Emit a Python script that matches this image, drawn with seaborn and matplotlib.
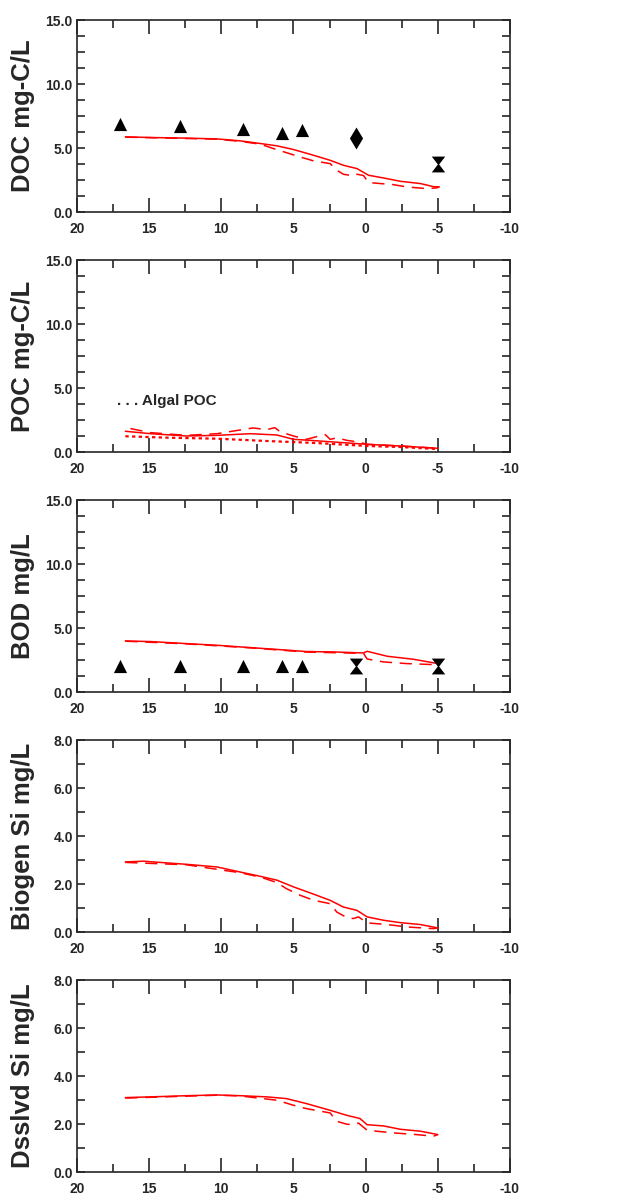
import numpy as np
import pandas as pd
import matplotlib
matplotlib.use("Agg")
import matplotlib.pyplot as plt
from matplotlib.path import Path
from matplotlib.ticker import MultipleLocator, FormatStrFormatter
import seaborn as sns

# ---- observations (field samples) ----
obs_tri_x = [17.0, 12.85, 8.5, 5.8, 4.38]
doc_tri = [6.9, 6.75, 6.45, 6.2, 6.4]
bod_tri = [2.0, 2.0, 2.0, 2.0, 2.0]
doc_dia_x, doc_dia = [0.66], [5.82]
doc_hg_x, doc_hg = [-5.0], [3.78]
bod_hg_x, bod_hg = [0.66, -5.0], [2.0, 2.0]

# ---- model output ----
doc_main_x = [16.65, 14.9, 12.4, 10.3, 8.7, 7.3, 6.15, 5.0, 3.85, 2.46, 1.54, 0.6, -0.2, -1.23, -2.4, -3.8, -4.7, -5.1]
doc_main = [5.87, 5.82, 5.77, 5.71, 5.56, 5.35, 5.17, 4.88, 4.51, 4.04, 3.65, 3.39, 2.87, 2.66, 2.40, 2.22, 1.98, 1.96]
doc_alt_x = [16.65, 10.3, 8.7, 7.3, 6.4, 5.5, 4.54, 3.6, 2.46, 2.0, 1.54, 0.85, 0.6, 0.15, -0.2, -1.9, -2.85, -4.2, -4.9, -5.1]
doc_alt = [5.85, 5.69, 5.52, 5.3, 4.96, 4.64, 4.3, 3.99, 3.78, 3.26, 2.95, 2.82, 2.95, 2.85, 2.30, 2.14, 1.96, 1.83, 1.88, 1.96]

poc_main_x = [16.65, 14.9, 12.4, 10.3, 8.0, 6.15, 5.0, 3.85, 2.2, -0.1, -2.4, -5.0]
poc_main = [1.62, 1.43, 1.25, 1.30, 1.43, 1.33, 0.99, 0.91, 0.78, 0.60, 0.47, 0.29]
poc_alt_x = [16.3, 14.9, 12.4, 10.3, 9.15, 7.8, 6.85, 6.3, 5.9, 5.0, 4.1, 3.5, 2.8, 2.46, 2.0, 1.3, 0.5, -0.1, -2.4, -5.0]
poc_alt = [1.83, 1.51, 1.30, 1.43, 1.64, 1.88, 1.75, 1.90, 1.57, 1.25, 0.99, 1.17, 1.36, 0.99, 1.10, 0.91, 0.78, 0.60, 0.47, 0.29]
poc_alg_x = [16.65, 13.8, 10.3, 6.85, 3.4, -0.1, -2.4, -5.0]
poc_alg = [1.23, 1.12, 1.04, 0.86, 0.70, 0.47, 0.39, 0.23]

bod_main_x = [16.65, 14.9, 12.4, 10.3, 8.0, 5.7, 4.1, 2.2, 0.15, -0.1, -1.5, -3.3, -5.0]
bod_main = [3.99, 3.94, 3.78, 3.65, 3.47, 3.29, 3.16, 3.13, 3.05, 3.18, 2.79, 2.56, 2.22]
bod_alt_x = [16.65, 12.4, 8.0, 4.1, 0.15, -0.1, -1.23, -2.85, -4.7, -5.0]
bod_alt = [3.97, 3.76, 3.45, 3.12, 3.02, 2.58, 2.35, 2.22, 2.14, 2.30]

bsi_main_x = [16.65, 15.4, 13.8, 12.4, 10.3, 8.7, 7.3, 6.15, 5.0, 3.85, 2.46, 1.54, 0.6, -0.1, -1.23, -2.4, -3.8, -5.0]
bsi_main = [2.92, 2.95, 2.88, 2.82, 2.71, 2.50, 2.32, 2.16, 1.88, 1.63, 1.32, 1.04, 0.90, 0.63, 0.49, 0.39, 0.31, 0.17]
bsi_alt_x = [16.65, 12.4, 8.7, 7.3, 6.15, 5.5, 4.54, 3.6, 2.46, 2.0, 1.3, 0.85, 0.5, -0.1, -1.5, -2.85, -4.7, -5.0]
bsi_alt = [2.90, 2.80, 2.47, 2.29, 2.06, 1.81, 1.53, 1.32, 1.18, 0.83, 0.60, 0.56, 0.63, 0.38, 0.31, 0.21, 0.14, 0.17]

dsi_main_x = [16.65, 14.9, 12.4, 10.3, 8.7, 6.85, 5.5, 4.1, 2.46, 1.3, 0.4, -0.1, -1.23, -2.4, -3.8, -5.0]
dsi_main = [3.10, 3.13, 3.18, 3.21, 3.18, 3.13, 3.06, 2.85, 2.57, 2.36, 2.23, 1.97, 1.92, 1.78, 1.70, 1.56]
dsi_alt_x = [16.65, 10.3, 8.7, 6.15, 5.0, 4.1, 2.46, 2.0, 1.3, 0.85, 0.5, -0.1, -1.9, -3.5, -4.7, -5.0]
dsi_alt = [3.08, 3.20, 3.17, 2.99, 2.78, 2.64, 2.46, 2.11, 1.99, 1.97, 2.04, 1.74, 1.63, 1.56, 1.49, 1.56]

ylabels = ["DOC mg-C/L", "POC mg-C/L", "BOD mg/L", "Biogen Si mg/L", "Dsslvd Si mg/L"]
ymaxes = [15.0, 15.0, 15.0, 8.0, 8.0]

sns.set_style("ticks")
plt.rcParams["font.family"] = ["Liberation Sans", "DejaVu Sans"]
plt.rcParams["font.weight"] = "bold"

# custom markers: tall diamond and hourglass
diamond = Path([(0, 1), (0.6, 0), (0, -1), (-0.6, 0), (0, 1)],
               [Path.MOVETO, Path.LINETO, Path.LINETO, Path.LINETO, Path.CLOSEPOLY])
hourglass = Path([(-0.85, 1), (0.85, 1), (0.08, 0), (0.85, -1), (-0.85, -1), (-0.08, 0), (-0.85, 1)],
                 [Path.MOVETO, Path.LINETO, Path.LINETO, Path.LINETO, Path.LINETO, Path.LINETO, Path.CLOSEPOLY])

fig = plt.figure(figsize=(6.26, 12.01), dpi=100)
W, H = 626, 1201
axes = []
for i in range(5):
    top = 20 + 240 * i
    bottom = top + 192
    ax = fig.add_axes([77 / W, 1 - bottom / H, (510 - 77) / W, 192 / H])
    axes.append(ax)

red = "#ff0000"


def model_lines(ax, x1, y1, x2, y2):
    sns.lineplot(x=x1, y=y1, ax=ax, color=red, lw=1.1, sort=False, estimator=None)
    sns.lineplot(x=x2, y=y2, ax=ax, color=red, lw=1.1, sort=False, estimator=None,
                 dashes=False, linestyle=(0, (8, 5)))


def tri(ax, x, y):
    sns.scatterplot(x=x, y=y, ax=ax, marker="^", s=90, color="black", linewidth=0, zorder=5)


model_lines(axes[0], doc_main_x, doc_main, doc_alt_x, doc_alt)
tri(axes[0], obs_tri_x, doc_tri)
sns.scatterplot(x=doc_dia_x, y=doc_dia, ax=axes[0], marker=diamond, s=250, color="black", linewidth=0, zorder=5)
sns.scatterplot(x=doc_hg_x, y=doc_hg, ax=axes[0], marker=hourglass, s=130, color="black", linewidth=0, zorder=5)

model_lines(axes[1], poc_main_x, poc_main, poc_alt_x, poc_alt)
sns.lineplot(x=poc_alg_x, y=poc_alg, ax=axes[1], color=red, lw=1.6, sort=False,
             estimator=None, linestyle=(0, (1.5, 1.5)))
axes[1].text(17.2, 4.0, ". . . Algal POC", fontsize=11, fontweight="bold", va="center", ha="left")

model_lines(axes[2], bod_main_x, bod_main, bod_alt_x, bod_alt)
tri(axes[2], obs_tri_x, bod_tri)
sns.scatterplot(x=bod_hg_x, y=bod_hg, ax=axes[2], marker=hourglass, s=130, color="black", linewidth=0, zorder=5)

model_lines(axes[3], bsi_main_x, bsi_main, bsi_alt_x, bsi_alt)
model_lines(axes[4], dsi_main_x, dsi_main, dsi_alt_x, dsi_alt)

for ax, lab, ymax in zip(axes, ylabels, ymaxes):
    ax.set_xlim(20, -10)
    ax.set_ylim(0, ymax)
    ax.xaxis.set_major_locator(MultipleLocator(5))
    ax.xaxis.set_minor_locator(MultipleLocator(2.5))
    if ymax > 10:
        ax.yaxis.set_major_locator(MultipleLocator(5))
        ax.yaxis.set_minor_locator(MultipleLocator(1.25))
    else:
        ax.yaxis.set_major_locator(MultipleLocator(2))
        ax.yaxis.set_minor_locator(MultipleLocator(1))
    ax.yaxis.set_major_formatter(FormatStrFormatter("%.1f"))
    ax.xaxis.set_major_formatter(FormatStrFormatter("%d"))
    ax.tick_params(axis="x", which="major", direction="in", top=True, bottom=True,
                   length=10, width=1.2, pad=7, labelsize=10)
    ax.tick_params(axis="x", which="minor", direction="in", top=True, bottom=True,
                   length=5.5, width=1.2)
    ax.tick_params(axis="y", which="both", direction="in", left=True, right=True,
                   length=6, width=1.2, pad=3, labelsize=10)
    for lbl in ax.get_xticklabels() + ax.get_yticklabels():
        lbl.set_fontweight("bold")
    for sp in ax.spines.values():
        sp.set_visible(True)
        sp.set_linewidth(1.2)
    ax.set_xlabel("")
    ax.set_ylabel(lab, fontsize=18.5, fontweight="bold")
    ax.yaxis.set_label_coords(-0.098, 0.5)

fig.savefig("out.png", dpi=100)
